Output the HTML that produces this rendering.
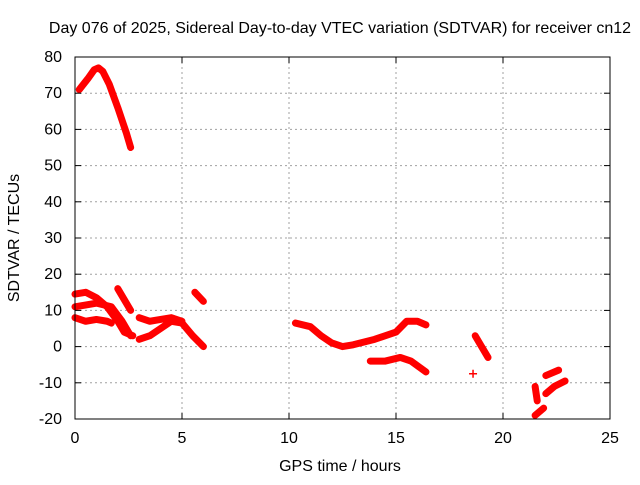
<!DOCTYPE html>
<html><head><meta charset="utf-8"><style>
body{margin:0;background:#fff;}
svg text{font-family:"Liberation Sans",sans-serif;font-size:16px;fill:#000;}
</style></head><body>
<svg id="chart" width="640" height="480">
<text x="340" y="33" text-anchor="middle">Day 076 of 2025, Sidereal Day-to-day VTEC variation (SDTVAR) for receiver cn12</text>
<text x="340" y="471" text-anchor="middle">GPS time / hours</text>
<text transform="translate(19,238) rotate(-90)" text-anchor="middle">SDTVAR / TECUs</text>
<g id="grid"></g><g id="series"></g><g id="axes"></g>
</svg>
<script>
const xTicks=[0,5,10,15,20,25];
const yTicks=[-20,-10,0,10,20,30,40,50,60,70,80];
const seriesA=[[0.2,71],[0.6,74],[0.9,76.5],[1.1,77],[1.3,76],[1.6,72.5],[2.0,66],[2.4,59],[2.6,55]];
const seriesB=[[0,14.5],[0.5,15],[1,13.5],[1.5,11],[2,7],[2.3,4],[2.7,3]];
const seriesC=[[0,11],[1,12],[1.7,11],[2.2,7],[2.6,3]];
const seriesD=[[0,8],[0.5,7],[1,7.5],[1.5,7],[1.7,6.5]];
const seriesE=[[2,16],[2.3,13],[2.6,10]];
const seriesF=[[5.6,15],[6,12.5]];
const seriesG=[[3,8],[3.5,7],[4,7.5],[4.5,8],[5,7]];
const seriesG2=[[3,2],[3.5,3],[4,5],[4.5,7],[5,6.5],[5.5,3],[6,0]];
const seriesH=[[10.3,6.5],[11,5.5],[11.5,3],[12,1],[12.5,0],[13,0.5],[14,2],[15,4],[15.5,7],[16,7],[16.4,6]];
const seriesI=[[13.8,-4],[14.5,-4],[15.2,-3],[15.7,-4],[16.4,-7]];
const seriesJ=[[18.7,3],[19,0],[19.3,-3]];
const seriesK=[[18.6,-7.5]];
const seriesL=[[21.5,-11],[21.6,-15]];
const seriesM=[[22,-13],[22.4,-11],[22.9,-9.5]];
const seriesN=[[22,-8],[22.6,-6.5]];
const seriesO=[[21.5,-19],[21.9,-17]];
const allSeries=[seriesA,seriesB,seriesC,seriesD,seriesE,seriesF,seriesG,seriesG2,seriesH,seriesI,seriesJ,seriesK,seriesL,seriesM,seriesN,seriesO];
const L=75,R=610,T=57,B=419;
const xs=h=>L+(h-0)/(25-0)*(R-L);
const ys=v=>B-(v+20)/100*(B-T);
const NS="http://www.w3.org/2000/svg";
function mk(t,a,p){const e=document.createElementNS(NS,t);for(const k in a)e.setAttribute(k,a[k]);p.appendChild(e);return e;}
const grid=document.getElementById('grid'),axes=document.getElementById('axes'),ser=document.getElementById('series');
xTicks.forEach(t=>{const x=xs(t);
 if(t>0&&t<25){const g=mk('line',{x1:x,x2:x,y1:T,y2:B,stroke:'#a0a0a0','stroke-dasharray':'2,3'},grid);
 
 }
 mk('line',{x1:x,x2:x,y1:B,y2:B-6,stroke:'#000'},axes);mk('line',{x1:x,x2:x,y1:T,y2:T+6,stroke:'#000'},axes);
 const tx=mk('text',{x:x,y:B+24,'text-anchor':'middle'},axes);tx.textContent=t;
 
 });
yTicks.forEach(t=>{const y=ys(t);
 if(t>-20&&t<80){const g=mk('line',{x1:L,x2:R,y1:y,y2:y,stroke:'#a0a0a0','stroke-dasharray':'2,3'},grid);
 
 }
 mk('line',{x1:L,x2:L+6,y1:y,y2:y,stroke:'#000'},axes);mk('line',{x1:R,x2:R-6,y1:y,y2:y,stroke:'#000'},axes);
 const tx=mk('text',{x:L-13,y:y+5,'text-anchor':'end'},axes);tx.textContent=t;
 
 });
const fr=mk('rect',{x:L,y:T,width:R-L,height:B-T,fill:'none',stroke:'#000'},axes);


allSeries.forEach((s,i)=>{
 let el;
 if(s.length===1){const x=xs(s[0][0]),y=ys(s[0][1]);
  el=mk('path',{d:`M${x-4},${y}H${x+4}M${x},${y-4}V${y+4}`,stroke:'#f00','stroke-width':1.5},ser);}
 else{el=mk('polyline',{points:s.map(p=>xs(p[0])+','+ys(p[1])).join(' '),fill:'none',stroke:'#f00','stroke-width':7,'stroke-linecap':'round','stroke-linejoin':'round'},ser);}
 
 
});
</script>
</body></html>
